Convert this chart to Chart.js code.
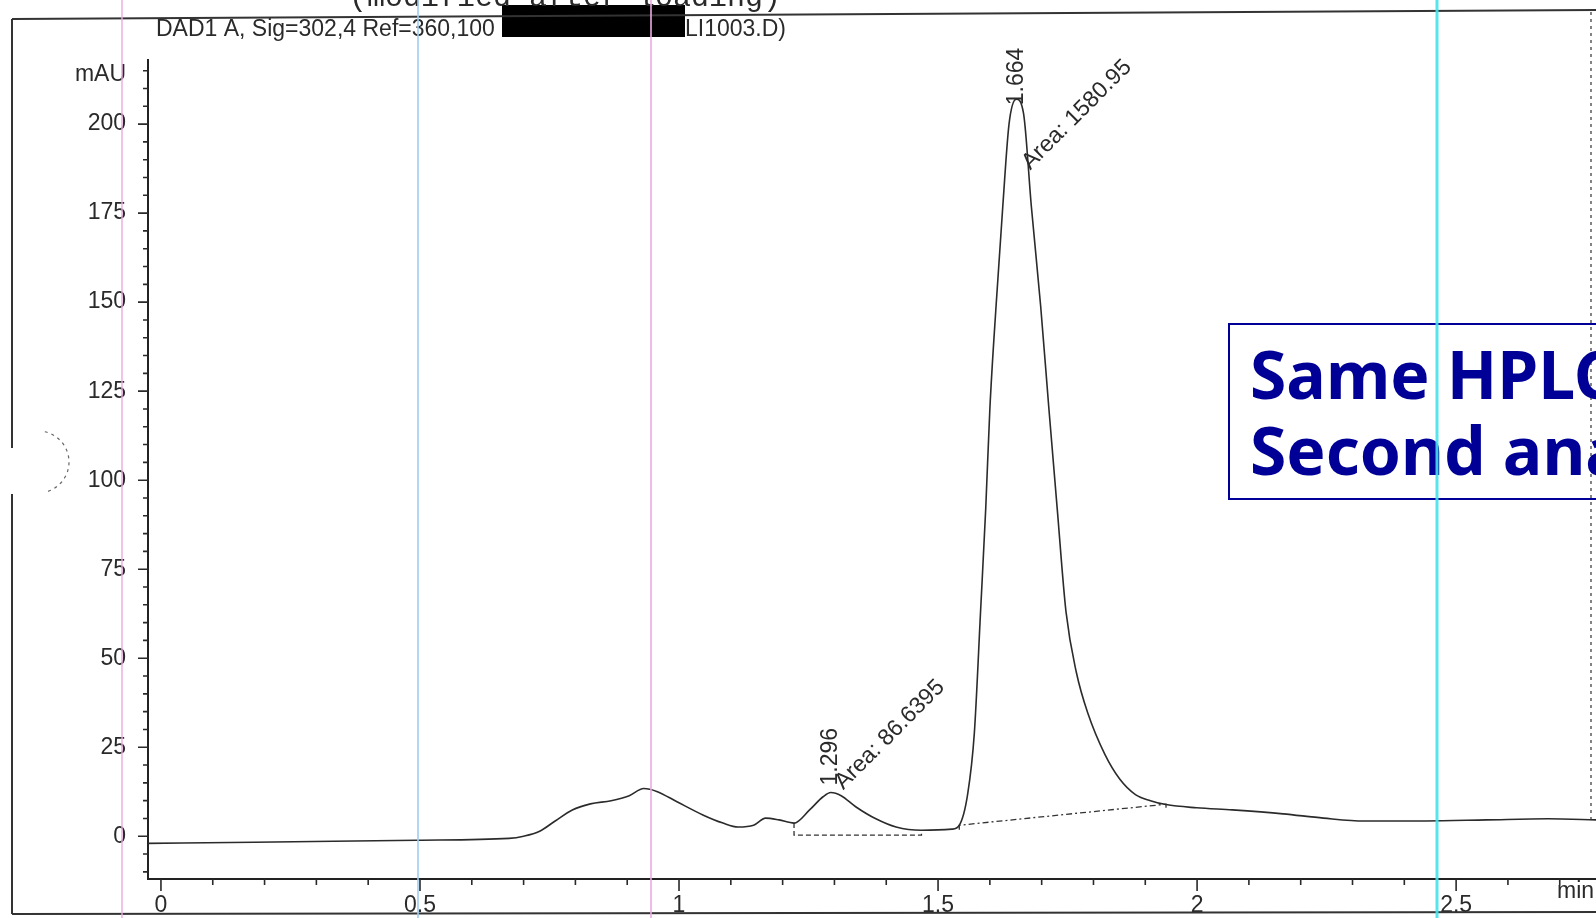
<!DOCTYPE html>
<html>
<head>
<meta charset="utf-8">
<script src="https://cdn.jsdelivr.net/npm/chart.js@4.4.1/dist/chart.umd.min.js"></script>
<style>
  html, body { margin: 0; padding: 0; background: #fff; overflow: hidden; }
  #wrap { position: relative; width: 1596px; height: 918px; }
</style>
</head>
<body>
<div id="wrap"><canvas id="chromatogram" width="1596" height="918"></canvas></div>
<script>
// DAD1 A trace: retention time (min) / signal (mAU)
const traceTime = [-0.03, 0.18, 0.495, 0.672, 0.70, 0.731, 0.761, 0.794, 0.829, 0.869,
  0.904, 0.932, 0.957, 0.996, 1.046, 1.085, 1.114, 1.144, 1.167, 1.193,
  1.222, 1.252, 1.278, 1.293, 1.313, 1.341, 1.38, 1.419, 1.468, 1.527,
  1.541, 1.557, 1.570, 1.582, 1.592, 1.60, 1.612, 1.625, 1.637, 1.651,
  1.665, 1.68, 1.698, 1.714, 1.73, 1.747, 1.767, 1.789, 1.822, 1.851,
  1.881, 1.91, 1.94, 1.999, 2.068, 2.166, 2.244, 2.323, 2.441, 2.559,
  2.677, 2.775];
const traceMAU = [-2.0, -1.7, -1.1, -0.6, 0, 1.4, 4.3, 7.4, 9.1, 10,
  11.4, 13.4, 12.6, 9.7, 6.0, 3.7, 2.6, 3.1, 5.1, 4.6,
  3.7, 7.4, 11.1, 12.3, 11.4, 8.3, 4.9, 2.6, 1.7, 2.0,
  3.1, 11.7, 28.9, 63, 92, 120, 149, 177, 200, 207,
  203, 177, 149, 120, 92, 63, 46, 34.6, 23, 16,
  11.7, 10, 8.9, 8.0, 7.4, 6.3, 5.1, 4.3, 4.3, 4.6,
  4.9, 4.6];

// integration baselines (with their start / end drop marks)
const base1Time = [1.222, 1.222, 1.468, 1.468];
const base1MAU = [3.7, 0.3, 0.3, 1.6];
const base2Time = [1.541, 1.541, 1.94, 1.94];
const base2MAU = [1.8, 3.1, 9.0, 7.4];

// peak table
const peakRT = ['1.296', '1.664'];
const peakArea = ['86.6395', '1580.95'];
const peakApexTime = [1.293, 1.651];
const peakApexMAU = [12.3, 207];

// axis ticks
const xTicks = [0, 0.5, 1, 1.5, 2, 2.5];
const xTickLabels = ['0', '0.5', '1', '1.5', '2', '2.5'];
const yTicks = [0, 25, 50, 75, 100, 125, 150, 175, 200];

const toPoints = (xs, ys) => xs.map((v, i) => ({ x: v, y: ys[i] }));
const FONT = "'Liberation Sans', Arial, sans-serif";

const paperPlugin = {
  id: 'paper',
  beforeDraw(chart) {
    const ctx = chart.ctx;
    ctx.save();
    ctx.fillStyle = '#ffffff';
    ctx.fillRect(0, 0, chart.width, chart.height);
    ctx.restore();
  },
  afterDraw(chart) {
    const { ctx, chartArea: area, scales: { x, y } } = chart;
    ctx.save();
    ctx.strokeStyle = '#2a2a2a';
    ctx.fillStyle = '#2a2a2a';

    // tick marks: every 0.1 min / 5 mAU, longer on the labelled ones
    ctx.lineWidth = 1.6;
    ctx.beginPath();
    for (let i = 0; i <= 27; i++) {
      const px = x.getPixelForValue(i / 10);
      const len = i % 5 === 0 ? 12 : 6;
      ctx.moveTo(px, area.bottom);
      ctx.lineTo(px, area.bottom + len);
    }
    for (let v = -10; v <= 215; v += 5) {
      const py = y.getPixelForValue(v);
      const len = v % 25 === 0 ? 10 : 5;
      ctx.moveTo(area.left, py);
      ctx.lineTo(area.left - len, py);
    }
    ctx.stroke();

    // axis captions
    ctx.font = '23px ' + FONT;
    ctx.textBaseline = 'middle';
    ctx.textAlign = 'right';
    ctx.fillText('mAU', area.left - 22, y.getPixelForValue(214));
    ctx.textAlign = 'left';
    ctx.fillText('min', 1557, 892);

    // header
    ctx.fillText('DAD1 A, Sig=302,4 Ref=360,100', 156, 30);
    ctx.textAlign = 'right';
    ctx.fillText('LI1003.D)', 786, 30);
    ctx.fillStyle = '#000';
    ctx.fillRect(502, 5, 183, 32);
    ctx.fillStyle = '#2a2a2a';
    ctx.textAlign = 'center';
    ctx.textBaseline = 'alphabetic';
    ctx.font = "30px 'Liberation Mono', 'DejaVu Sans Mono', monospace";
    ctx.fillText('(modified after loading)', 565, 6);

    // peak labels: retention time upright, area at 45 degrees
    ctx.font = '23px ' + FONT;
    const rtLift = [7, -6];
    const areaAnchor = [[1.317, 12.9], [1.678, 187]];
    peakRT.forEach((rt, i) => {
      const px = x.getPixelForValue(peakApexTime[i]);
      const py = y.getPixelForValue(peakApexMAU[i]);
      ctx.save();
      ctx.translate(px, py - rtLift[i]);
      ctx.rotate(-Math.PI / 2);
      ctx.textAlign = 'left';
      ctx.textBaseline = 'middle';
      ctx.fillText(rt, 0, 0);
      ctx.restore();

      ctx.save();
      ctx.translate(x.getPixelForValue(areaAnchor[i][0]), y.getPixelForValue(areaAnchor[i][1]));
      ctx.rotate(-Math.PI / 4);
      ctx.textAlign = 'left';
      ctx.textBaseline = 'alphabetic';
      ctx.fillText('Area: ' + peakArea[i], 0, 0);
      ctx.restore();
    });

    // page frame of the print-out
    ctx.lineWidth = 2;
    ctx.strokeStyle = '#333';
    ctx.beginPath();
    ctx.moveTo(12, 19); ctx.lineTo(1596, 10);
    ctx.moveTo(12, 19); ctx.lineTo(12, 448);
    ctx.moveTo(12, 494); ctx.lineTo(12, 914);
    ctx.moveTo(12, 914); ctx.lineTo(1596, 912);
    ctx.stroke();
    ctx.setLineDash([3, 4]);
    ctx.lineWidth = 1.2;
    ctx.beginPath();
    ctx.moveTo(1591, 12); ctx.lineTo(1591, 820);
    ctx.stroke();
    // punch hole
    ctx.strokeStyle = '#666';
    ctx.beginPath();
    ctx.arc(38, 462, 31, -1.35, 1.35);
    ctx.stroke();
    ctx.setLineDash([]);

    // annotation box pasted on the slide
    ctx.strokeStyle = '#000099';
    ctx.lineWidth = 2;
    ctx.strokeRect(1229, 324, 400, 175);
    ctx.fillStyle = '#000096';
    ctx.font = "bold 66px 'Noto Sans', 'DejaVu Sans', sans-serif";
    ctx.textAlign = 'left';
    ctx.fillText('Same HPLC', 1250, 399);
    ctx.fillText('Second analysis', 1250, 475);

    // coloured scanner streaks
    const streaks = [[122, 'rgba(235,170,225,0.7)', 2], [418, 'rgba(160,205,240,0.8)', 2],
      [651, 'rgba(235,170,225,0.8)', 2], [1437, 'rgba(70,225,235,0.9)', 3]];
    streaks.forEach(([sx, col, w]) => {
      ctx.strokeStyle = col;
      ctx.lineWidth = w;
      ctx.beginPath();
      ctx.moveTo(sx, 0); ctx.lineTo(sx, chart.height);
      ctx.stroke();
    });
    ctx.restore();
  }
};

new Chart(document.getElementById('chromatogram'), {
  type: 'line',
  data: {
    datasets: [
      { label: 'DAD1 A', data: toPoints(traceTime, traceMAU), borderColor: '#2b2b2b', borderWidth: 1.6,
        pointRadius: 0, cubicInterpolationMode: 'monotone' },
      { label: 'baseline 1', data: toPoints(base1Time, base1MAU), borderColor: '#333', borderWidth: 1.3,
        borderDash: [5, 3], pointRadius: 0, tension: 0 },
      { label: 'baseline 2', data: toPoints(base2Time, base2MAU), borderColor: '#333', borderWidth: 1.3,
        borderDash: [6, 3, 2, 3], pointRadius: 0, tension: 0 }
    ]
  },
  options: {
    responsive: false,
    animation: false,
    events: [],
    layout: { padding: { top: 60, left: 0, right: 0, bottom: 0 } },
    plugins: { legend: { display: false }, tooltip: { enabled: false } },
    scales: {
      x: {
        type: 'linear',
        min: -0.025,
        max: 2.77,
        afterBuildTicks: (scale) => { scale.ticks = xTicks.map(v => ({ value: v })); },
        afterFit: (scale) => { scale.height = 39; },
        grid: { display: false, drawTicks: false },
        border: { display: true, color: '#222', width: 2 },
        ticks: {
          padding: 13,
          color: '#2a2a2a',
          font: { family: FONT, size: 23 },
          maxRotation: 0,
          autoSkip: false,
          callback: (v) => xTickLabels[xTicks.indexOf(v)] ?? ''
        }
      },
      y: {
        type: 'linear',
        min: -12,
        max: 218,
        afterBuildTicks: (scale) => { scale.ticks = yTicks.map(v => ({ value: v })); },
        afterFit: (scale) => { scale.width = 148; },
        grid: { display: false, drawTicks: false },
        border: { display: true, color: '#222', width: 2 },
        ticks: {
          padding: 22,
          color: '#2a2a2a',
          font: { family: FONT, size: 23 },
          autoSkip: false,
          callback: (v) => String(v)
        }
      }
    }
  },
  plugins: [paperPlugin]
});
</script>
</body>
</html>
